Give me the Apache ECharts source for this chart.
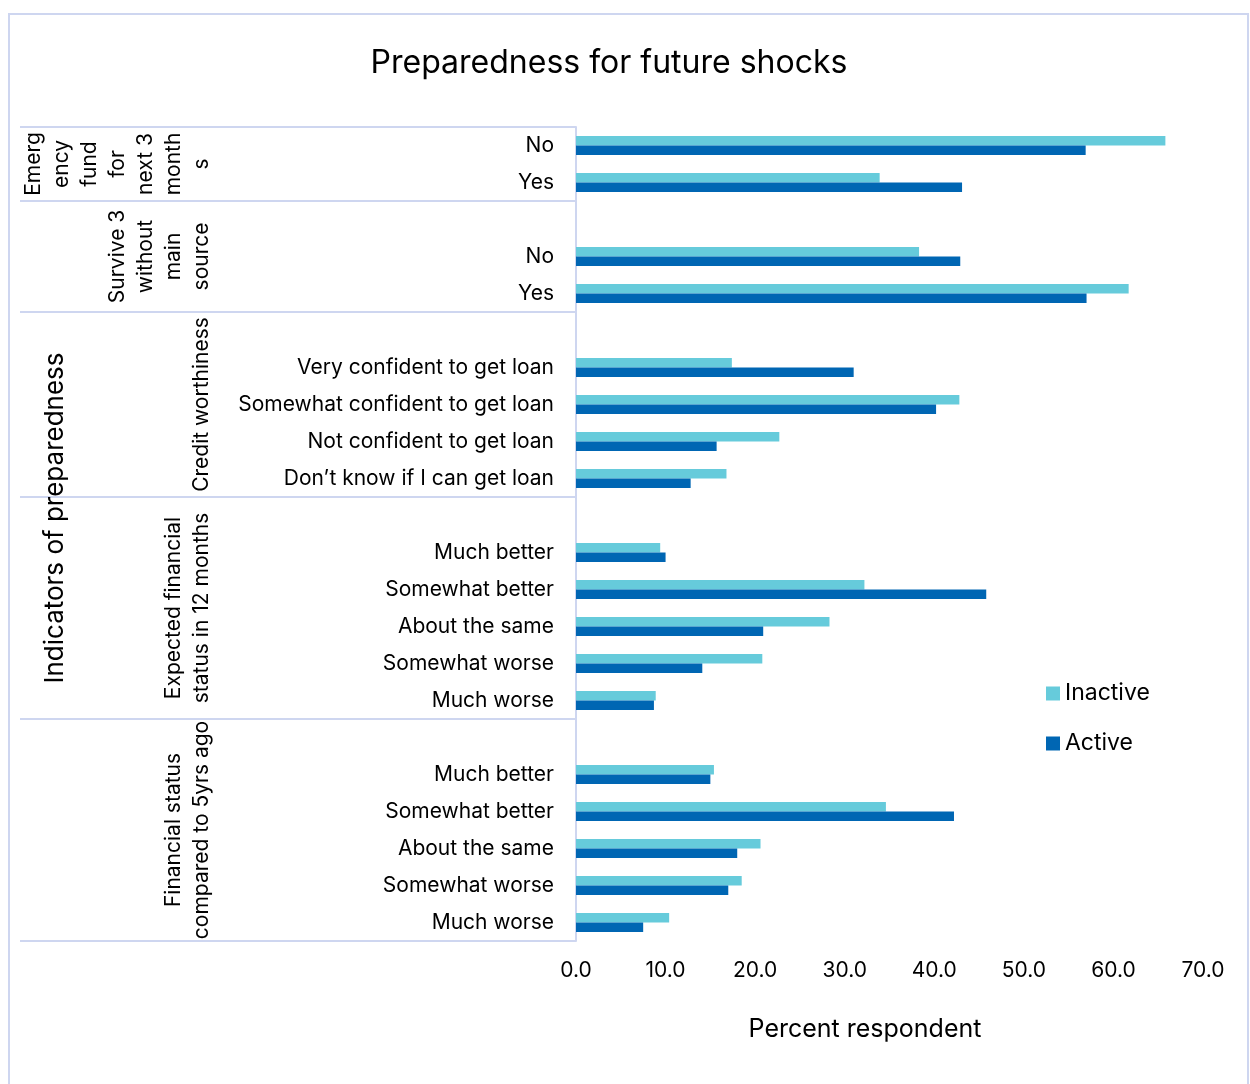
<!DOCTYPE html>
<html>
<head>
<meta charset="utf-8">
<script src="https://cdn.jsdelivr.net/npm/echarts@6/dist/echarts.min.js"></script>
<style>
html,body{margin:0;padding:0;background:#fff;}
#main{width:1250px;height:1084px;}
</style>
</head>
<body>
<div id="main"></div>
<script>
const categories = ['No','Yes','','No','Yes','','Very confident to get loan','Somewhat confident to get loan','Not confident to get loan','Don\u2019t know if I can get loan','','Much better','Somewhat better','About the same','Somewhat worse','Much worse','','Much better','Somewhat better','About the same','Somewhat worse','Much worse'];
const inactive = [65.8,33.9,null,38.3,61.7,null,17.4,42.8,22.7,16.8,null,9.4,32.2,28.3,20.8,8.9,null,15.4,34.6,20.6,18.5,10.4];
const active = [56.9,43.1,null,42.9,57.0,null,31.0,40.2,15.7,12.8,null,10.0,45.8,20.9,14.1,8.7,null,15.0,42.2,18.0,17.0,7.5];
const groupNames = ['Emerg\nency\nfund\nfor\nnext 3\nmonth\ns','Survive 3\nwithout\nmain\nsource','Credit worthiness','Expected financial\nstatus in 12 months','Financial status\ncompared to 5yrs ago'];
const groupStart = [0,2,5,10,16];
const groupEnd = [1,4,9,15,21];
const xTicks = [0,10,20,30,40,50,60,70];

const FONT = 'Inter, "Noto Sans", sans-serif';
const LINE = '#CED6F0';
const chart = echarts.init(document.getElementById('main'));
const option = {
  animation:false,
  backgroundColor:'#fff',
  textStyle:{fontFamily:FONT},
  title:{text:'Preparedness for future shocks',left:604,textAlign:'center',top:42,
    textStyle:{fontSize:32,fontWeight:'normal',color:'#000',fontFamily:FONT}},
  legend:{orient:'vertical',left:1041,top:677,itemWidth:14,itemHeight:14,itemGap:27,icon:'rect',
    textStyle:{fontSize:23,color:'#000',fontFamily:FONT},data:['Inactive','Active']},
  grid:{left:576,right:47,top:127,bottom:143,containLabel:false},
  xAxis:{type:'value',min:xTicks[0],max:xTicks[xTicks.length-1],interval:10,
    axisLine:{show:false},axisTick:{show:false},splitLine:{show:false},
    axisLabel:{fontSize:21,color:'#000',margin:19,formatter:v=>v.toFixed(1),fontFamily:FONT},
    name:'Percent respondent',nameLocation:'middle',nameGap:76,
    nameTextStyle:{fontSize:25,color:'#000',padding:[0,49,0,0],fontFamily:FONT}},
  yAxis:{type:'category',data:categories,inverse:true,
    axisLine:{show:true,lineStyle:{color:LINE,width:2}},axisTick:{show:false},
    axisLabel:{fontSize:21,color:'#000',margin:22,fontFamily:FONT,padding:[0,0,2,0]}},
  series:[
    {name:'Inactive',type:'bar',data:inactive,barGap:'0%',barCategoryGap:'49%',itemStyle:{color:'#66CBDB'}},
    {name:'Active',type:'bar',data:active,barGap:'0%',barCategoryGap:'49%',itemStyle:{color:'#0066B3'}}
  ]
};
chart.setOption(option);

const c = i => chart.convertToPixel({yAxisIndex:0}, i);
const band = c(1) - c(0);
const graphics = [];
graphics.push({type:'rect',shape:{x:9,y:14,width:1239,height:1200},style:{fill:'none',stroke:LINE,lineWidth:2},silent:true});
const bounds = groupStart.map(i => c(i) - band/2);
bounds.push(c(groupEnd[groupEnd.length-1]) + band/2);
bounds.forEach(y => {
  graphics.push({type:'line',shape:{x1:20,y1:Math.round(y),x2:576,y2:Math.round(y)},style:{stroke:LINE,lineWidth:2},silent:true});
});
groupNames.forEach((name, g) => {
  const yc = (c(groupStart[g]) - band/2 + c(groupEnd[g]) + band/2) / 2;
  graphics.push({type:'text',x:216,y:yc,rotation:Math.PI/2,
    style:{text:name,font:'21px '+FONT,fill:'#000',align:'center',verticalAlign:'bottom',lineHeight:28},silent:true});
});
graphics.push({type:'text',x:55,y:518,rotation:Math.PI/2,
  style:{text:'Indicators of preparedness',font:'26px '+FONT,fill:'#000',align:'center',verticalAlign:'middle'},silent:true});
chart.setOption({graphic:graphics});
</script>
</body>
</html>
